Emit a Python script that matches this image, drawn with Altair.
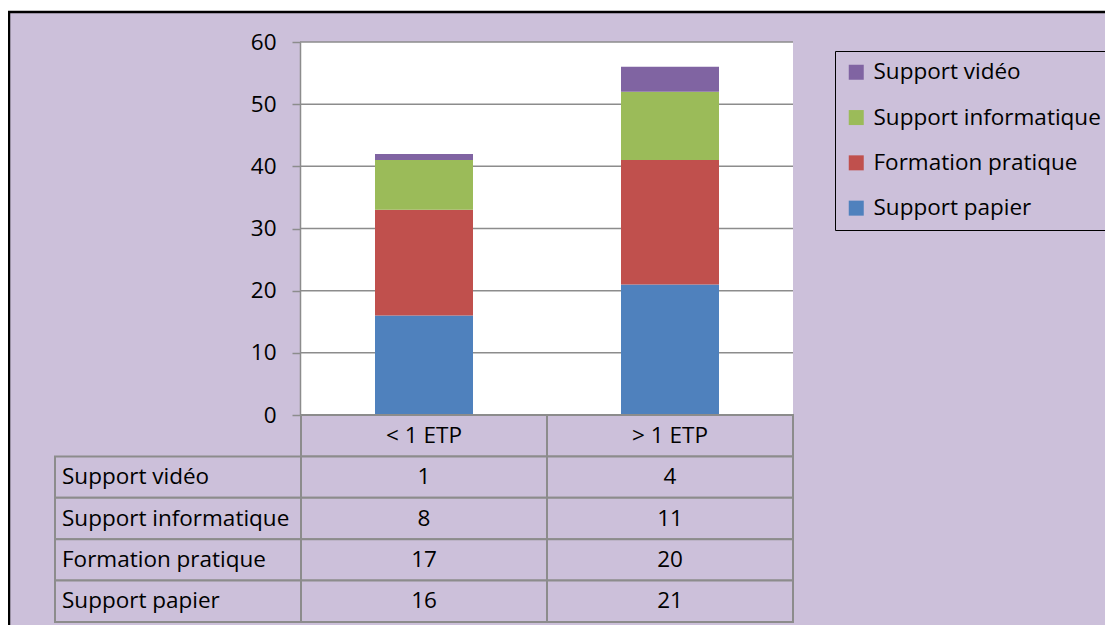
import altair as alt
import pandas as pd

# ---- data ----
categories = ["< 1 ETP", "> 1 ETP"]
series_stack = ["Support papier", "Formation pratique", "Support informatique", "Support vidéo"]
support_papier = [16, 21]
formation_pratique = [17, 20]
support_informatique = [8, 11]
support_video = [1, 4]
y_ticks = [0, 10, 20, 30, 40, 50, 60]

legend_order = ["Support vidéo", "Support informatique", "Formation pratique", "Support papier"]
legend_colors = ["#8064A2", "#9BBB59", "#C0504D", "#4F81BD"]

series_values = {
    "Support papier": support_papier,
    "Formation pratique": formation_pratique,
    "Support informatique": support_informatique,
    "Support vidéo": support_video,
}

FONT = "Open Sans"
FS = 22.5
PURPLE = "#CCC0DA"
GRID = "#8C8C8C"

rows = []
for si, s in enumerate(series_stack):
    for ci, c in enumerate(categories):
        rows.append({"cat": c, "series": s, "value": series_values[s][ci], "ord": si})
df = pd.DataFrame(rows)

x_domain = ["label"] + categories
y_tab_domain = ["header"] + legend_order

cells = []
texts = []
for c in categories:
    cells.append({"col": c, "row": "header"})
    texts.append({"col": c, "row": "header", "txt": c, "kind": "c"})
for s in legend_order:
    cells.append({"col": "label", "row": s})
    texts.append({"col": "label", "row": s, "txt": s, "kind": "l"})
    for ci, c in enumerate(categories):
        cells.append({"col": c, "row": s})
        texts.append({"col": c, "row": s, "txt": str(series_values[s][ci]), "kind": "c"})
cells_df = pd.DataFrame(cells)
texts_df = pd.DataFrame(texts)
ticks_df = pd.DataFrame({"t": y_ticks})

W = 493
x_scale = alt.Scale(domain=x_domain, range=[-245, W], paddingInner=0, paddingOuter=0)
y_bar_scale = alt.Scale(domain=[0, 60], range=[373, 0], nice=False, zero=True)
y_tab_scale = alt.Scale(domain=y_tab_domain, range=[373, 580], paddingInner=0, paddingOuter=0)

one = alt.Data(values=[{"a": 1}])

frame = alt.Chart(one).mark_rect(fill=PURPLE).encode(
    x=alt.value(-291), x2=alt.value(830), y=alt.value(-30), y2=alt.value(600)
)
frame_left = alt.Chart(one).mark_rule(color="black", strokeWidth=2.5).encode(
    x=alt.value(-291), y=alt.value(-31), y2=alt.value(600)
)
frame_top = alt.Chart(one).mark_rule(color="black", strokeWidth=2.5).encode(
    y=alt.value(-30), x=alt.value(-292), x2=alt.value(830)
)

white = alt.Chart(one).mark_rect(fill="white").encode(
    x=alt.value(0), x2=alt.value(W),
    y=alt.YDatum(60, scale=y_bar_scale), y2=alt.datum(0)
)

grid = alt.Chart(ticks_df).mark_rule(color=GRID, strokeWidth=1.5).encode(
    y=alt.Y("t:Q", scale=y_bar_scale),
    x=alt.value(0), x2=alt.value(W)
)

bars = alt.Chart(df).mark_bar(size=98).encode(
    x=alt.X("cat:N", scale=x_scale, axis=None),
    y=alt.Y("value:Q", stack="zero", scale=y_bar_scale,
            axis=alt.Axis(values=y_ticks, title=None, grid=False, domainColor=GRID,
                          domainWidth=1.5, tickColor=GRID, tickWidth=1.5, tickSize=8,
                          labelFont=FONT, labelFontSize=FS, labelColor="black",
                          labelPadding=16, zindex=1)),
    color=alt.Color("series:N", scale=alt.Scale(domain=legend_order, range=legend_colors),
                    legend=alt.Legend(title=None, orient="none", legendX=535, legendY=9,
                                      symbolType="square", symbolSize=225, symbolStrokeWidth=0,
                                      symbolOpacity=1, labelFont=FONT, labelFontSize=FS,
                                      labelColor="black", labelOffset=6, rowPadding=22.3,
                                      labelLimit=0, padding=10, strokeColor="black")),
    order=alt.Order("ord:Q"),
)

top = alt.layer(frame, frame_left, frame_top, white, grid, bars)

cell_rects = alt.Chart(cells_df).mark_rect(fill=PURPLE, stroke=GRID, strokeWidth=2).encode(
    x=alt.X("col:N", scale=x_scale, axis=None),
    y=alt.Y("row:N", scale=y_tab_scale, axis=None),
)

label_text = alt.Chart(texts_df).transform_filter(alt.datum.kind == "l").mark_text(
    align="left", baseline="middle", font=FONT, fontSize=FS, color="black", dx=7
).encode(
    x=alt.X("col:N", scale=x_scale, axis=None, bandPosition=0),
    y=alt.Y("row:N", scale=y_tab_scale, axis=None),
    text="txt:N",
)

value_text = alt.Chart(texts_df).transform_filter(alt.datum.kind == "c").mark_text(
    align="center", baseline="middle", font=FONT, fontSize=FS, color="black"
).encode(
    x=alt.X("col:N", scale=x_scale, axis=None),
    y=alt.Y("row:N", scale=y_tab_scale, axis=None),
    text="txt:N",
)

table = alt.layer(cell_rects, label_text, value_text)

chart = alt.layer(top, table).resolve_scale(y="independent").properties(
    width=W, height=580, background="white",
    padding={"left": 292, "top": 34, "right": 312, "bottom": 3},
    autosize=alt.AutoSizeParams(type="none"),
).configure_view(stroke=None, fill=None)

chart.save("out.html", embed_options={"renderer": "svg", "actions": False})
